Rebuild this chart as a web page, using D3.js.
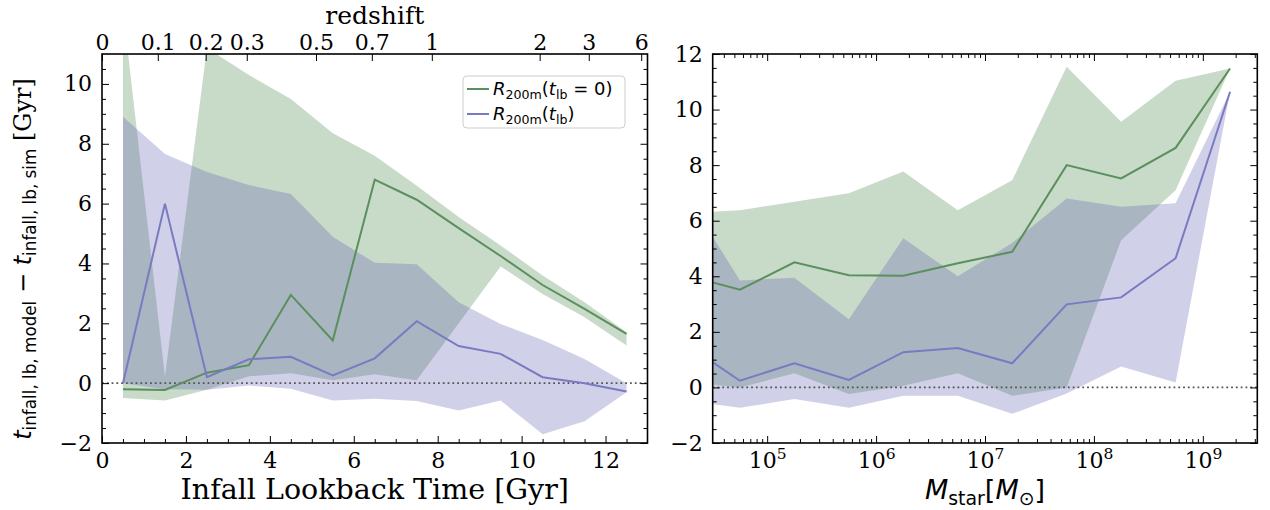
<!DOCTYPE html>
<html>
<head>
<meta charset="utf-8">
<script src="https://cdn.jsdelivr.net/npm/d3@7"></script>
<style>
  body { margin: 0; background: #fff; }
</style>
</head>
<body>
<svg id="chart" width="1270" height="510"></svg>
<script>
// left panel: median + band of the infall time offset, per lookback time bin
const lbTime = [0.5, 1.5, 2.5, 3.5, 4.5, 5.5, 6.5, 7.5, 8.5, 9.5, 10.5, 11.5, 12.5];
const fixMed = [-0.2, -0.23, 0.35, 0.6, 2.95, 1.43, 6.8, 6.13, 5.18, 4.25, 3.28, 2.48, 1.65];
const fixLo  = [-0.5, -0.58, -0.22, 0.23, 0.33, 0.1, 0.3, 0.1, 2.0, 3.9, 2.98, 2.2, 1.26];
const fixHi  = [12.5, 0.22, 11.2, 10.3, 9.5, 8.35, 7.6, 6.6, 5.55, 4.6, 3.6, 2.7, 1.7];
const evoMed = [0.0, 6.0, 0.2, 0.8, 0.88, 0.26, 0.83, 2.07, 1.24, 0.98, 0.2, 0.0, -0.28];
const evoLo  = [0.0, -0.2, -0.22, -0.08, -0.19, -0.58, -0.52, -0.6, -0.91, -0.58, -1.71, -1.27, -0.3];
const evoHi  = [8.9, 7.66, 7.06, 6.62, 6.32, 4.89, 4.02, 3.97, 2.7, 1.98, 1.44, 0.81, 0.0];

// right panel: same, per stellar mass bin (log10 Msun)
const logMstar = [4.25, 4.75, 5.25, 5.75, 6.25, 6.75, 7.25, 7.75, 8.25, 8.75, 9.25];
const mFixMed = [4.04, 3.52, 4.5, 4.04, 4.02, 4.47, 4.88, 8.0, 7.52, 8.62, 11.48];
const mFixLo  = [0.2, 0.0, 0.51, -0.24, 0.06, 0.51, -0.3, 0.0, 5.3, 7.1, 11.48];
const mFixHi  = [6.26, 6.38, 6.68, 6.99, 7.77, 6.38, 7.46, 11.54, 9.56, 11.04, 11.48];
const mEvoMed = [1.58, 0.24, 0.87, 0.27, 1.27, 1.42, 0.87, 2.99, 3.24, 4.65, 10.64];
const mEvoLo  = [-0.47, -0.73, -0.42, -0.73, -0.3, -0.3, -0.95, -0.22, 0.75, 0.18, 10.64];
const mEvoHi  = [6.99, 3.85, 3.95, 2.45, 5.37, 4.0, 5.2, 6.8, 6.5, 6.63, 10.64];

// tick labels
const lbTicks = [0, 2, 4, 6, 8, 10, 12];
const yTicksL = [-2, 0, 2, 4, 6, 8, 10];
const yTicksR = [-2, 0, 2, 4, 6, 8, 10, 12];
const zLabels = ["0", "0.1", "0.2", "0.3", "0.5", "0.7", "1", "2", "3", "6"];
const zLookback = [0, 1.33, 2.47, 3.45, 5.1, 6.43, 7.86, 10.43, 11.6, 12.85];
const massTicks = [1e5, 1e6, 1e7, 1e8, 1e9];

const green = "#5b8f5e", greenFill = "#488448";
const purple = "#7a7ac2", purpleFill = "#6262b2";
const serif = "DejaVu Serif", sans = "DejaVu Sans";

const svg = d3.select("#chart");

const xL = d3.scaleLinear().domain([0, 13]).range([102, 647.5]);
const yL = d3.scaleLinear().domain([-2, 11]).range([443, 54]);
const xR = d3.scaleLog().domain([Math.pow(10, 4.5), Math.pow(10, 9.5)]).range([712.7, 1257.3]);
const yR = d3.scaleLinear().domain([-2, 12]).range([443, 54]);

// write a small "mathtext" string made of parts: {t, it, sub}
function mathText(sel, parts, size, family) {
    let shifted = false;
    parts.forEach(p => {
        const ts = sel.append("tspan").text(p.t)
            .attr("font-family", p.fam || family)
            .attr("font-style", p.it ? "italic" : "normal")
            .attr("font-size", p.sub ? size * 0.7 : size);
        if (p.sub && !shifted) { ts.attr("dy", size * 0.22); shifted = true; }
        else if (!p.sub && shifted) { ts.attr("dy", -size * 0.22); shifted = false; }
    });
}

function panel(x, y, id) {
    const g = svg.append("g");
    const [x0, x1] = x.range(), [y0, y1] = y.range();
    svg.append("clipPath").attr("id", id).append("rect")
        .attr("x", x0).attr("y", y1).attr("width", x1 - x0).attr("height", y0 - y1);
    const plot = g.append("g").attr("clip-path", "url(#" + id + ")");
    return { g, plot, x0, x1, y0, y1 };
}

function bands(p, xs, x, y, series) {
    series.forEach(s => {
        const area = d3.area()
            .x((d, i) => x(xs[i]))
            .y0((d, i) => y(s.lo[i]))
            .y1((d, i) => y(s.hi[i]));
        p.plot.append("path").attr("d", area(xs))
            .attr("fill", s.fill).attr("fill-opacity", 0.3);
    });
    p.plot.append("line")
        .attr("x1", p.x0).attr("x2", p.x1).attr("y1", y(0)).attr("y2", y(0))
        .attr("stroke", "#555").attr("stroke-width", 1.8).attr("stroke-dasharray", "1.8,3");
    series.forEach(s => {
        const line = d3.line().x((d, i) => x(xs[i])).y((d, i) => y(s.med[i]));
        p.plot.append("path").attr("d", line(xs))
            .attr("fill", "none").attr("stroke", s.col).attr("stroke-width", 2);
    });
}

function styleAxis(a) {
    a.select(".domain").remove();
    a.selectAll("line").attr("stroke", "#000").attr("stroke-width", 1);
    a.selectAll("text").attr("font-family", serif).attr("font-size", 22).attr("fill", "#000");
}

function frame(p) {
    p.g.append("rect").attr("x", p.x0).attr("y", p.y1)
        .attr("width", p.x1 - p.x0).attr("height", p.y0 - p.y1)
        .attr("fill", "none").attr("stroke", "#000").attr("stroke-width", 1.6);
}

// ---------- left panel ----------
const pL = panel(xL, yL, "clipL");
bands(pL, lbTime, xL, yL, [
    { lo: fixLo, hi: fixHi, med: fixMed, fill: greenFill, col: green },
    { lo: evoLo, hi: evoHi, med: evoMed, fill: purpleFill, col: purple }
]);

const minorLbX = d3.range(0.5, 13, 0.5).filter(v => v % 2 !== 0);
const minorLY = d3.range(-1.5, 11, 0.5).filter(v => v % 2 !== 0);

pL.g.append("g").attr("transform", `translate(0,${pL.y0})`)
    .call(d3.axisBottom(xL).tickValues(lbTicks).tickSize(-7).tickPadding(9.5)).call(styleAxis);
pL.g.append("g").attr("transform", `translate(0,${pL.y0})`)
    .call(d3.axisBottom(xL).tickValues(minorLbX).tickSize(-4).tickFormat("")).call(styleAxis);
pL.g.append("g").attr("transform", `translate(0,${pL.y1})`)
    .call(d3.axisTop(xL).tickValues(zLookback).tickSize(-7).tickPadding(4)
        .tickFormat((d, i) => zLabels[i])).call(styleAxis);
pL.g.append("g").attr("transform", `translate(${pL.x0},0)`)
    .call(d3.axisLeft(yL).tickValues(yTicksL).tickSize(-7).tickPadding(10)
        .tickFormat(d => d < 0 ? "\u2212" + Math.abs(d) : d)).call(styleAxis);
pL.g.append("g").attr("transform", `translate(${pL.x0},0)`)
    .call(d3.axisLeft(yL).tickValues(minorLY).tickSize(-4).tickFormat("")).call(styleAxis);
pL.g.append("g").attr("transform", `translate(${pL.x1},0)`)
    .call(d3.axisRight(yL).tickValues(yTicksL).tickSize(-7).tickFormat("")).call(styleAxis);
pL.g.append("g").attr("transform", `translate(${pL.x1},0)`)
    .call(d3.axisRight(yL).tickValues(minorLY).tickSize(-4).tickFormat("")).call(styleAxis);
frame(pL);

svg.append("text").attr("x", (pL.x0 + pL.x1) / 2).attr("y", 23.5)
    .attr("text-anchor", "middle").attr("font-family", serif).attr("font-size", 25)
    .text("redshift");
svg.append("text").attr("x", (pL.x0 + pL.x1) / 2).attr("y", 499)
    .attr("text-anchor", "middle").attr("font-family", serif).attr("font-size", 28.5)
    .text("Infall Lookback Time [Gyr]");

const yLab = svg.append("text")
    .attr("transform", `translate(31,259) rotate(-90)`)
    .attr("text-anchor", "middle");
mathText(yLab, [
    { t: "t", it: true }, { t: "infall, lb, model", sub: true },
    { t: " \u2212 " }, { t: "t", it: true }, { t: "infall, lb, sim", sub: true },
    { t: " [Gyr]", fam: serif }
], 24, sans);

// legend
const leg = svg.append("g").attr("transform", "translate(463,76)");
leg.append("rect").attr("width", 162).attr("height", 52).attr("rx", 4)
    .attr("fill", "#fff").attr("fill-opacity", 0.8).attr("stroke", "#ccc");
[
    { col: green, parts: [{ t: "R", it: true }, { t: "200m", sub: true }, { t: "(" }, { t: "t", it: true }, { t: "lb", sub: true }, { t: " = 0)" }] },
    { col: purple, parts: [{ t: "R", it: true }, { t: "200m", sub: true }, { t: "(" }, { t: "t", it: true }, { t: "lb", sub: true }, { t: ")" }] }
].forEach((e, i) => {
    const cy = 13 + i * 25;
    leg.append("line").attr("x1", 4).attr("x2", 26).attr("y1", cy).attr("y2", cy)
        .attr("stroke", e.col).attr("stroke-width", 2);
    const t = leg.append("text").attr("x", 30).attr("y", cy + 6);
    mathText(t, e.parts, 18, sans);
});

// ---------- right panel ----------
const pR = panel(xR, yR, "clipR");
const mstar = logMstar.map(v => Math.pow(10, v));
bands(pR, mstar, xR, yR, [
    { lo: mFixLo, hi: mFixHi, med: mFixMed, fill: greenFill, col: green },
    { lo: mEvoLo, hi: mEvoHi, med: mEvoMed, fill: purpleFill, col: purple }
]);

const minorM = [];
for (let k = 4; k <= 9; k++) for (let m = 2; m <= 9; m++) {
    const v = m * Math.pow(10, k);
    if (v > xR.domain()[0] && v < xR.domain()[1]) minorM.push(v);
}
const minorRY = d3.range(-1.5, 12, 0.5).filter(v => v % 2 !== 0);

const xAxR = pR.g.append("g").attr("transform", `translate(0,${pR.y0})`)
    .call(d3.axisBottom(xR).tickValues(massTicks).tickSize(-7).tickPadding(9.5)
        .tickFormat(d => "10")).call(styleAxis);
xAxR.selectAll("text").append("tspan").text(d => Math.round(Math.log10(d)))
    .attr("font-size", 15.5).attr("dy", -9);
pR.g.append("g").attr("transform", `translate(0,${pR.y0})`)
    .call(d3.axisBottom(xR).tickValues(minorM).tickSize(-4).tickFormat("")).call(styleAxis);
pR.g.append("g").attr("transform", `translate(0,${pR.y1})`)
    .call(d3.axisTop(xR).tickValues(massTicks).tickSize(-7).tickFormat("")).call(styleAxis);
pR.g.append("g").attr("transform", `translate(0,${pR.y1})`)
    .call(d3.axisTop(xR).tickValues(minorM).tickSize(-4).tickFormat("")).call(styleAxis);
pR.g.append("g").attr("transform", `translate(${pR.x0},0)`)
    .call(d3.axisLeft(yR).tickValues(yTicksR).tickSize(-7).tickPadding(10)
        .tickFormat(d => d < 0 ? "\u2212" + Math.abs(d) : d)).call(styleAxis);
pR.g.append("g").attr("transform", `translate(${pR.x0},0)`)
    .call(d3.axisLeft(yR).tickValues(minorRY).tickSize(-4).tickFormat("")).call(styleAxis);
pR.g.append("g").attr("transform", `translate(${pR.x1},0)`)
    .call(d3.axisRight(yR).tickValues(yTicksR).tickSize(-7).tickFormat("")).call(styleAxis);
pR.g.append("g").attr("transform", `translate(${pR.x1},0)`)
    .call(d3.axisRight(yR).tickValues(minorRY).tickSize(-4).tickFormat("")).call(styleAxis);
frame(pR);

const xLabR = svg.append("text").attr("x", (pR.x0 + pR.x1) / 2).attr("y", 499)
    .attr("text-anchor", "middle");
mathText(xLabR, [
    { t: "M", it: true }, { t: "star", sub: true }, { t: "[" }, { t: "M", it: true },
    { t: "\u2299", sub: true }, { t: "]" }
], 27, sans);
</script>
</body>
</html>
